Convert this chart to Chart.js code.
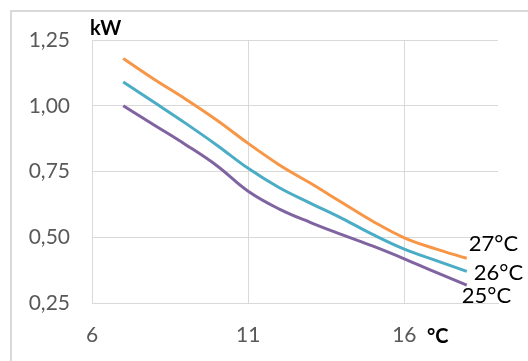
<!DOCTYPE html>
<html>
<head>
<meta charset="utf-8">
<script src="https://cdn.jsdelivr.net/npm/chart.js@4"></script>
<style>
  html, body { margin: 0; padding: 0; background: #fff; }
  canvas { display: block; }
</style>
</head>
<body>
<canvas id="chart" width="528" height="361"></canvas>
<script>
// outdoor temperature (°C) on x, power (kW) on y
const temps = [7, 8, 9, 10, 11, 12, 13, 14, 15, 16, 17, 18];
const kw27 = [1.18, 1.10, 1.025, 0.945, 0.857, 0.775, 0.705, 0.632, 0.56, 0.498, 0.456, 0.42];
const kw26 = [1.09, 1.012, 0.933, 0.85, 0.762, 0.688, 0.629, 0.572, 0.51, 0.455, 0.412, 0.37];
const kw25 = [1.00, 0.926, 0.852, 0.772, 0.675, 0.607, 0.556, 0.51, 0.466, 0.418, 0.367, 0.318];
const seriesNames = ["27°C", "26°C", "25°C"];
const xTicks = [6, 11, 16];
const yTicks = [0.25, 0.5, 0.75, 1.0, 1.25];

const FONT = "Lato, 'Open Sans', sans-serif";
const GRID = "#D9D9D9";
const toPoints = (arr) => temps.map((t, i) => ({ x: t, y: arr[i] }));

// where each end label sits relative to its last point
const labelOffsets = [
  { dx: 2, dy: -14 },
  { dx: 7, dy: 1 },
  { dx: -5, dy: 11 },
];

const decorations = {
  id: "decorations",
  beforeDraw(chart) {
    const ctx = chart.ctx;
    ctx.save();
    ctx.strokeStyle = GRID;
    ctx.lineWidth = 2;
    ctx.beginPath();
    ctx.moveTo(11, 361);
    ctx.lineTo(11, 11);
    ctx.lineTo(528, 11);
    ctx.stroke();
    ctx.restore();
  },
  afterDraw(chart) {
    const ctx = chart.ctx;
    const area = chart.chartArea;
    ctx.save();
    ctx.fillStyle = "#000";
    ctx.textBaseline = "alphabetic";
    ctx.textAlign = "left";
    ctx.font = "bold 20px " + FONT;
    ctx.fillText("kW", area.left - 2, 35);
    ctx.fillText("°C", 427, 343);

    ctx.font = "22px " + FONT;
    ctx.textBaseline = "middle";
    chart.data.datasets.forEach((ds, i) => {
      const meta = chart.getDatasetMeta(i);
      const last = meta.data[meta.data.length - 1];
      const off = labelOffsets[i];
      ctx.fillText(seriesNames[i], last.x + off.dx, last.y + off.dy);
    });
    ctx.restore();
  },
};

new Chart(document.getElementById("chart"), {
  type: "line",
  data: {
    datasets: [
      { label: seriesNames[0], data: toPoints(kw27), borderColor: "#F79646" },
      { label: seriesNames[1], data: toPoints(kw26), borderColor: "#4BACC6" },
      { label: seriesNames[2], data: toPoints(kw25), borderColor: "#8064A2" },
    ],
  },
  options: {
    responsive: false,
    animation: false,
    layout: { padding: { left: 10, top: 40, right: 30, bottom: 0 } },
    elements: {
      line: { borderWidth: 3, tension: 0.4, fill: false },
      point: { radius: 0, hoverRadius: 0 },
    },
    plugins: { legend: { display: false }, tooltip: { enabled: false } },
    scales: {
      x: {
        type: "linear",
        min: 6,
        max: 19,
        afterBuildTicks: (scale) => { scale.ticks = xTicks.map((v) => ({ value: v })); },
        afterFit: (scale) => { scale.height = 58; },
        grid: { color: GRID, lineWidth: 1, drawTicks: false },
        border: { color: GRID, width: 1 },
        ticks: { color: "#595959", padding: 20, font: { family: FONT, size: 21 } },
      },
      y: {
        min: 0.25,
        max: 1.25,
        afterBuildTicks: (scale) => { scale.ticks = yTicks.map((v) => ({ value: v })); },
        afterFit: (scale) => { scale.width = 82; },
        grid: { color: GRID, lineWidth: 1, drawTicks: false },
        border: { color: GRID, width: 1 },
        ticks: {
          color: "#595959",
          padding: 22,
          font: { family: FONT, size: 21 },
          callback: (v) => v.toFixed(2).replace(".", ","),
        },
      },
    },
  },
  plugins: [decorations],
});
</script>
</body>
</html>
